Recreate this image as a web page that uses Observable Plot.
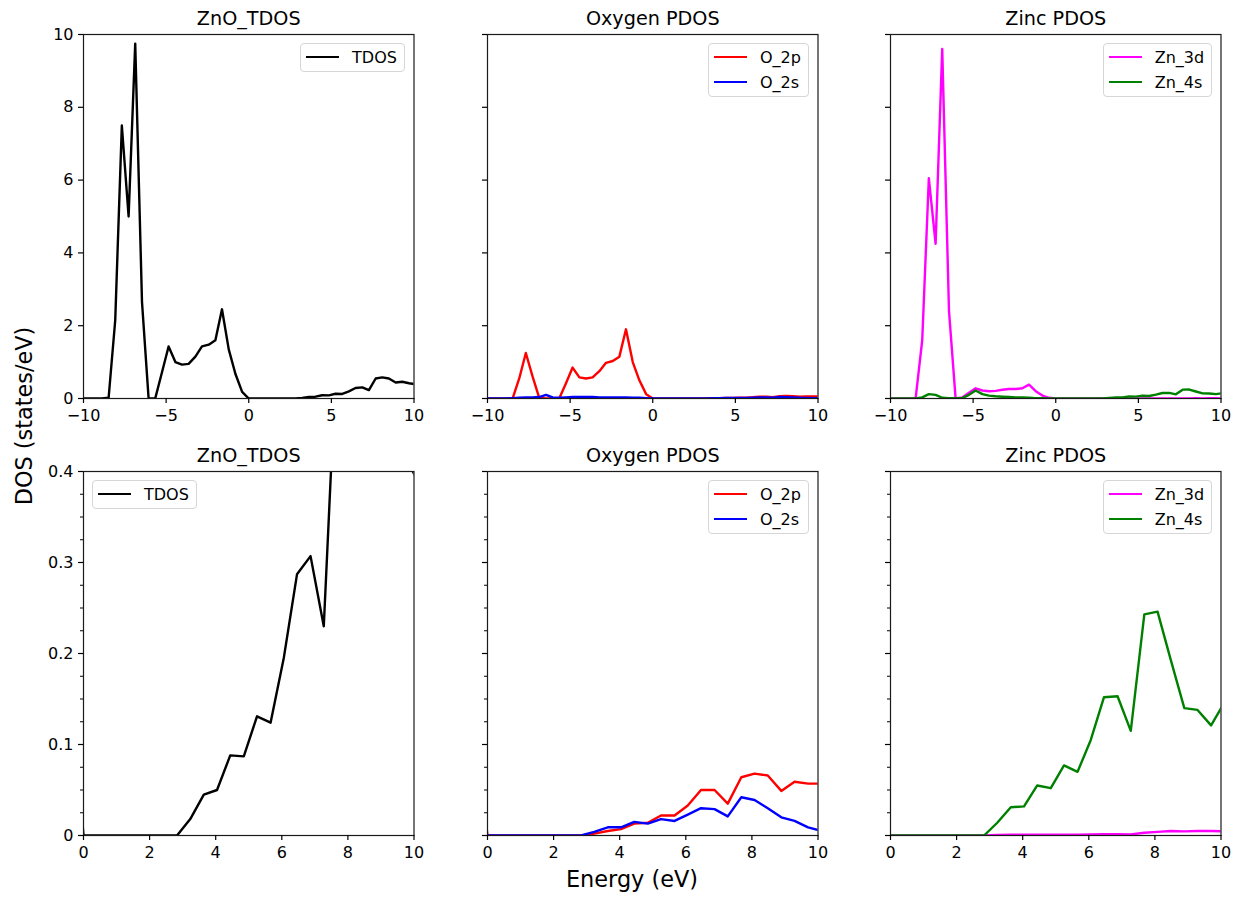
<!DOCTYPE html>
<html>
<head>
<meta charset="utf-8">
<script src="https://cdn.jsdelivr.net/npm/d3@7"></script>
<script src="https://cdn.jsdelivr.net/npm/@observablehq/plot@0.6"></script>
<style>
  html, body { margin: 0; padding: 0; background: #fff; }
  #fig { position: relative; width: 1236px; height: 897px; overflow: hidden; background: #fff;
         font-family: "DejaVu Sans", sans-serif; color: #000; }
  #fig svg.panel { position: absolute; overflow: visible; }
  .legend { position: absolute; background: rgba(255,255,255,0.8); border: 1px solid #d6d6d6;
            border-radius: 4px; padding: 5px 7px 5px 5px; font-size: 16px; line-height: 17px; }
  .legend .row { display: flex; align-items: center; height: 17px; white-space: nowrap; }
  .legend .row + .row { margin-top: 8px; }
  .legend .sw { width: 33px; height: 2.4px; margin-right: 13px; }
  #labels { position: absolute; left: 0; top: 0; pointer-events: none; }
</style>
</head>
<body>
<div id="fig"></div>
<script>
// ---------------- data ----------------
const energy = [-10.10,-9.70,-9.29,-8.89,-8.48,-8.08,-7.68,-7.27,-6.87,-6.46,
                -6.06,-5.66,-5.25,-4.85,-4.44,-4.04,-3.64,-3.23,-2.83,-2.42,
                -2.02,-1.62,-1.21,-0.81,-0.40,0.00,0.40,0.81,1.21,1.62,
                2.02,2.42,2.83,3.23,3.64,4.04,4.44,4.85,5.25,5.66,
                6.06,6.46,6.87,7.27,7.68,8.08,8.48,8.89,9.29,9.70,10.10];

const tdos = [0,0,0,0,0.02,2.15,7.5,5.0,9.75,2.65,
              0.0,0.0,0.72,1.43,1.0,0.93,0.95,1.15,1.43,1.48,
              1.6,2.45,1.35,0.68,0.18,0.0,0.0,0.0,0.0,0.0,
              0.0,0.0,0.0,0.018,0.045,0.050,0.088,0.087,0.131,0.124,
              0.195,0.287,0.307,0.230,0.55,0.58,0.55,0.44,0.46,0.42,0.39];

const o2p = [0,0,0,0,0.0,0.55,1.25,0.6,0.02,0.0,
             0.0,0.0,0.42,0.85,0.58,0.55,0.58,0.75,0.98,1.03,
             1.15,1.9,1.0,0.5,0.12,0.0,0,0,0,0,
             0,0,0,0.002,0.005,0.007,0.013,0.014,0.022,0.022,
             0.033,0.050,0.050,0.035,0.064,0.068,0.066,0.049,0.059,0.057,0.057];

const o2s = [0,0,0,0,0.01,0.02,0.03,0.03,0.04,0.10,
             0.03,0.02,0.03,0.04,0.04,0.04,0.04,0.03,0.03,0.03,
             0.03,0.03,0.02,0.02,0.01,0,0,0,0,0,
             0,0,0,0.004,0.009,0.009,0.015,0.013,0.018,0.016,
             0.023,0.030,0.029,0.021,0.042,0.039,0.030,0.020,0.016,0.009,0.005];

const zn3d = [0,0,0,0,0.0,1.6,6.05,4.25,9.6,2.4,
              0.0,0.03,0.16,0.28,0.22,0.20,0.21,0.24,0.26,0.26,
              0.28,0.38,0.20,0.08,0.02,0.0,0,0,0,0,
              0,0,0,0.0005,0.0008,0.0008,0.001,0.001,0.001,0.001,
              0.0012,0.0015,0.0015,0.0012,0.003,0.004,0.005,0.0045,0.005,0.005,0.0045];

const zn4s = [0,0,0,0,0.0,0.03,0.12,0.10,0.02,0.01,
              0.01,0.01,0.10,0.22,0.12,0.08,0.06,0.05,0.04,0.03,
              0.03,0.02,0.01,0.005,0.0,0,0,0,0,0,
              0,0,0,0.014,0.031,0.032,0.055,0.052,0.077,0.070,
              0.105,0.152,0.153,0.115,0.243,0.246,0.193,0.140,0.138,0.121,0.146];

const panelTitles = ["ZnO_TDOS", "Oxygen PDOS", "Zinc PDOS"];
const xTicksTop = [-10, -5, 0, 5, 10];
const yTicksTop = [0, 2, 4, 6, 8, 10];
const xTicksBottom = [0, 2, 4, 6, 8, 10];
const yTicksBottom = [0, 0.1, 0.2, 0.3, 0.4];
const yMinorBottom = [0.025,0.05,0.075,0.125,0.15,0.175,0.225,0.25,0.275,0.325,0.35,0.375];
const xLabel = "Energy (eV)";
const yLabel = "DOS (states/eV)";

const groups = [
  [{name: "TDOS", color: "#000000", values: tdos}],
  [{name: "O_2p", color: "#ff0000", values: o2p}, {name: "O_2s", color: "#0000ff", values: o2s}],
  [{name: "Zn_3d", color: "#ff00ff", values: zn3d}, {name: "Zn_4s", color: "#008000", values: zn4s}]
];

const rows = [
  {xDomain: [-10, 10], yDomain: [0, 10], xTicks: xTicksTop, yTicks: yTicksTop, minor: null},
  {xDomain: [0, 10], yDomain: [0, 0.4], xTicks: xTicksBottom, yTicks: yTicksBottom, minor: yMinorBottom}
];

// ---------------- layout ----------------
const colLeft = [82.7, 486.7, 890.0];
const rowTop = [34.3, 471.0];
const PW = 330.5, PH = 364;
const mL = 60, mR = 14, mT = 44, mB = 34;
const fmt = d3.format("~g");
const fig = document.getElementById("fig");

rows.forEach((row, r) => {
  groups.forEach((series, c) => {
    const marks = [];
    series.forEach(s => {
      marks.push(Plot.line(energy.map((e, i) => ({e, v: s.values[i]})),
        {x: "e", y: "v", stroke: s.color, strokeWidth: 2.4, clip: true, strokeLinejoin: "round"}));
    });
    marks.push(Plot.frame({stroke: "#1a1a1a", strokeWidth: 1.2}));
    marks.push(Plot.axisX({ticks: row.xTicks, tickSize: 5, tickPadding: 6, tickFormat: fmt, strokeWidth: 1.2}));
    marks.push(Plot.axisY({ticks: row.yTicks, tickSize: 5, tickPadding: 5,
      tickFormat: c === 0 ? fmt : () => "", strokeWidth: 1.2}));
    if (row.minor) {
      marks.push(Plot.axisY({ticks: row.minor, tickSize: 3, tickFormat: () => "", strokeWidth: 1}));
    }
    marks.push(Plot.text([panelTitles[c]], {frameAnchor: "top", dy: -9.6, lineAnchor: "bottom",
      fontSize: 19.2, fill: "#000"}));

    const svg = Plot.plot({
      width: PW + mL + mR,
      height: PH + mT + mB,
      marginLeft: mL, marginRight: mR, marginTop: mT, marginBottom: mB,
      x: {domain: row.xDomain, label: null},
      y: {domain: row.yDomain, label: null},
      style: {fontFamily: "DejaVu Sans", fontSize: "16px", color: "#000", background: "transparent", overflow: "visible"},
      marks
    });
    svg.classList.add("panel");
    svg.style.left = (colLeft[c] - mL) + "px";
    svg.style.top = (rowTop[r] - mT) + "px";
    fig.appendChild(svg);

    // legend
    const lg = document.createElement("div");
    lg.className = "legend";
    series.forEach(s => {
      const rowDiv = document.createElement("div");
      rowDiv.className = "row";
      const sw = document.createElement("span");
      sw.className = "sw";
      sw.style.background = s.color;
      const tx = document.createElement("span");
      tx.textContent = s.name;
      rowDiv.appendChild(sw);
      rowDiv.appendChild(tx);
      lg.appendChild(rowDiv);
    });
    lg.style.top = (rowTop[r] + 8.5) + "px";
    if (r === 1 && c === 0) {
      lg.style.left = (colLeft[c] + 9.3) + "px";
    } else {
      lg.style.right = (1236 - (colLeft[c] + PW - 8.3)) + "px";
    }
    fig.appendChild(lg);
  });
});

// figure-level axis labels
const ov = d3.create("svg").attr("id", "labels").attr("width", 1236).attr("height", 897);
ov.append("text").attr("x", 632).attr("y", 887).attr("text-anchor", "middle")
  .attr("font-family", "DejaVu Sans").attr("font-size", 22.4).attr("fill", "#000").text(xLabel);
ov.append("text").attr("transform", "translate(32,416) rotate(-90)").attr("text-anchor", "middle")
  .attr("font-family", "DejaVu Sans").attr("font-size", 22.4).attr("fill", "#000").text(yLabel);
fig.appendChild(ov.node());
</script>
</body>
</html>
